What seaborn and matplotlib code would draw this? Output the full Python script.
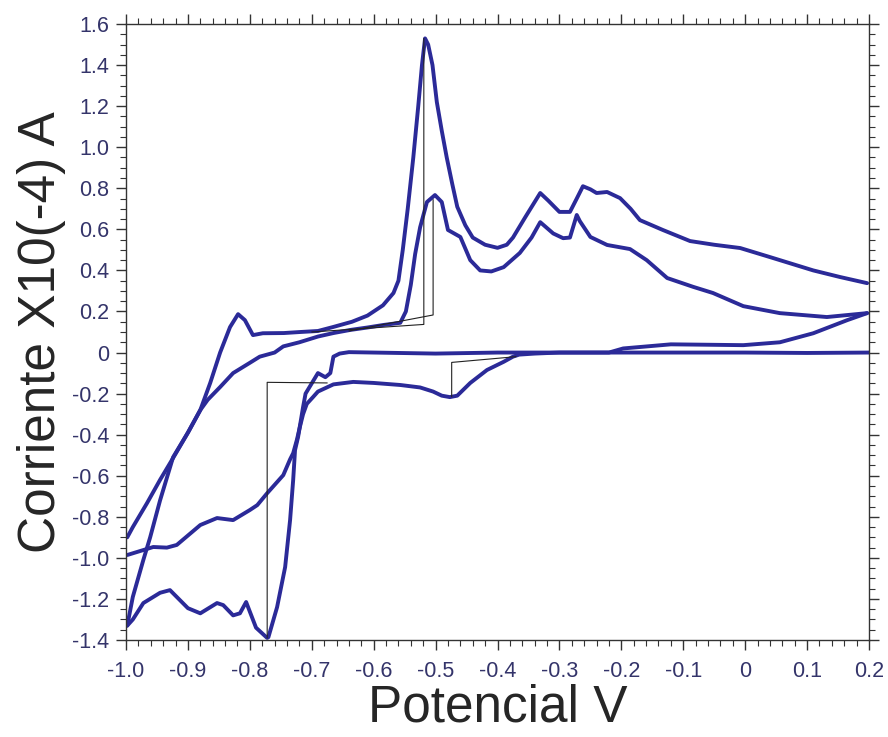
import numpy as np
import pandas as pd
import matplotlib
matplotlib.use("Agg")
import matplotlib.pyplot as plt
import seaborn as sns
from matplotlib.ticker import MultipleLocator, FuncFormatter

# Barrido anódico, ciclo 1 (pico grande)
anod1_x = [-0.998, -0.989, -0.972, -0.961, -0.945, -0.924, -0.90, -0.88, -0.864, -0.848,
           -0.832, -0.819, -0.808, -0.795, -0.779, -0.745, -0.719, -0.69, -0.666, -0.635,
           -0.61, -0.585, -0.568, -0.560, -0.553, -0.545, -0.536, -0.528, -0.522, -0.517,
           -0.512, -0.505, -0.498, -0.490, -0.482, -0.473, -0.465, -0.452, -0.44, -0.42,
           -0.40, -0.385, -0.375, -0.355, -0.331, -0.318, -0.30, -0.283, -0.272, -0.262,
           -0.25, -0.24, -0.223, -0.202, -0.185, -0.17, -0.133, -0.089, -0.05, -0.008,
           0.04, 0.11, 0.153, 0.197]
anod1_y = [-1.33, -1.19, -1.01, -0.90, -0.72, -0.51, -0.39, -0.28, -0.148, 0.0,
           0.124, 0.187, 0.158, 0.085, 0.094, 0.095, 0.10, 0.105, 0.124, 0.15,
           0.18, 0.23, 0.29, 0.35, 0.50, 0.70, 0.95, 1.20, 1.40, 1.53,
           1.50, 1.40, 1.22, 1.08, 0.95, 0.82, 0.71, 0.62, 0.56, 0.525,
           0.51, 0.525, 0.56, 0.66, 0.777, 0.74, 0.685, 0.685, 0.75, 0.81,
           0.795, 0.777, 0.782, 0.752, 0.70, 0.645, 0.597, 0.543, 0.525, 0.509,
           0.465, 0.40, 0.368, 0.338]

# Barrido anódico, ciclo 2
anod2_x = [-0.998, -0.989, -0.966, -0.945, -0.924, -0.90, -0.88, -0.868, -0.848, -0.827,
           -0.80, -0.784, -0.76, -0.746, -0.72, -0.69, -0.665, -0.638, -0.61, -0.585,
           -0.557, -0.548, -0.54, -0.533, -0.525, -0.514, -0.501, -0.49, -0.48, -0.46,
           -0.444, -0.428, -0.41, -0.39, -0.364, -0.345, -0.331, -0.31, -0.294, -0.283,
           -0.272, -0.267, -0.25, -0.223, -0.186, -0.159, -0.126, -0.084, -0.052, -0.003,
           0.056, 0.132, 0.197]
anod2_y = [-0.90, -0.85, -0.733, -0.62, -0.514, -0.39, -0.28, -0.23, -0.168, -0.10,
           -0.05, -0.02, 0.0, 0.03, 0.05, 0.078, 0.095, 0.11, 0.122, 0.134,
           0.145, 0.20, 0.33, 0.48, 0.61, 0.733, 0.767, 0.733, 0.597, 0.563,
           0.45, 0.40, 0.395, 0.416, 0.485, 0.56, 0.635, 0.58, 0.557, 0.56,
           0.67, 0.64, 0.563, 0.524, 0.504, 0.45, 0.363, 0.32, 0.29, 0.226,
           0.192, 0.173, 0.192]

# Barrido catódico, ciclo 1
cat1_x = [0.2, 0.1, 0.0, -0.1, -0.2, -0.3, -0.4, -0.5, -0.6, -0.64,
          -0.655, -0.665, -0.67, -0.678, -0.69, -0.70, -0.71, -0.714, -0.722, -0.727,
          -0.73, -0.735, -0.743, -0.756, -0.77, -0.772, -0.79, -0.806, -0.816, -0.827,
          -0.843, -0.853, -0.88, -0.90, -0.929, -0.945, -0.972, -0.989, -0.998]
cat1_y = [0.0, -0.002, 0.0, 0.0, 0.0, 0.0, 0.0, -0.005, 0.0, 0.002,
          -0.005, -0.02, -0.10, -0.12, -0.10, -0.15, -0.20, -0.265, -0.41, -0.475,
          -0.62, -0.816, -1.045, -1.24, -1.386, -1.39, -1.34, -1.215, -1.27, -1.28,
          -1.23, -1.22, -1.27, -1.245, -1.157, -1.17, -1.22, -1.30, -1.33]

# Barrido catódico, ciclo 2
cat2_x = [0.197, 0.165, 0.11, 0.056, -0.003, -0.06, -0.12, -0.197, -0.22, -0.26,
          -0.30, -0.34, -0.365, -0.375, -0.39, -0.417, -0.444, -0.465, -0.477, -0.49,
          -0.504, -0.525, -0.557, -0.60, -0.633, -0.665, -0.69, -0.698, -0.708, -0.714,
          -0.719, -0.724, -0.73, -0.735, -0.746, -0.772, -0.788, -0.80, -0.827, -0.853,
          -0.88, -0.918, -0.934, -0.956, -0.998]
cat2_y = [0.192, 0.158, 0.094, 0.05, 0.036, 0.038, 0.04, 0.02, 0.0, 0.0,
          0.0, -0.005, -0.01, -0.02, -0.045, -0.085, -0.148, -0.21, -0.217, -0.21,
          -0.19, -0.17, -0.158, -0.148, -0.143, -0.155, -0.19, -0.217, -0.25, -0.30,
          -0.36, -0.425, -0.49, -0.52, -0.597, -0.685, -0.743, -0.767, -0.816, -0.806,
          -0.84, -0.937, -0.95, -0.947, -0.986]

# Líneas base y alturas de pico
peak1_x = [-0.70, -0.519, -0.519]
peak1_y = [0.10, 0.137, 1.53]
peak2_x = [-0.64, -0.504, -0.504]
peak2_y = [0.105, 0.183, 0.745]
peak3_x = [-0.37, -0.474, -0.474]
peak3_y = [-0.02, -0.048, -0.215]
peak4_x = [-0.675, -0.772, -0.772]
peak4_y = [-0.148, -0.145, -1.39]

sns.set_style("ticks")
plt.rcParams['font.family'] = ['Liberation Sans', 'DejaVu Sans']

fig = plt.figure(figsize=(8.88, 7.37), dpi=100)
ax = fig.add_axes([0.1419, 0.1316, 0.8367, 0.8358])

blue = "#2b2a98"
for xs, ys in [(anod1_x, anod1_y), (anod2_x, anod2_y), (cat1_x, cat1_y), (cat2_x, cat2_y)]:
    df = pd.DataFrame({"E": xs, "I": ys})
    sns.lineplot(data=df, x="E", y="I", sort=False, estimator=None, color=blue, lw=2.8, ax=ax)

for xs, ys in [(peak1_x, peak1_y), (peak2_x, peak2_y), (peak3_x, peak3_y), (peak4_x, peak4_y)]:
    df = pd.DataFrame({"E": xs, "I": ys})
    sns.lineplot(data=df, x="E", y="I", sort=False, estimator=None, color="#222222", lw=0.8, ax=ax)

ax.set_xlim(-1.0, 0.2)
ax.set_ylim(-1.4, 1.6)
ax.xaxis.set_major_locator(MultipleLocator(0.1))
ax.xaxis.set_minor_locator(MultipleLocator(0.02))
ax.yaxis.set_major_locator(MultipleLocator(0.2))
ax.yaxis.set_minor_locator(MultipleLocator(0.05))
fmt = FuncFormatter(lambda v, p: "0" if abs(v) < 1e-9 else f"{v:.1f}")
ax.xaxis.set_major_formatter(fmt)
ax.yaxis.set_major_formatter(fmt)

for s in ax.spines.values():
    s.set_color("#333333")
    s.set_linewidth(1.0)
ax.tick_params(which="both", direction="out", top=True, right=True, color="#333333")
ax.tick_params(which="major", length=7, width=1.0, labelsize=15.5, labelcolor="#34346a")
ax.tick_params(which="minor", length=4, width=0.8)
ax.tick_params(axis="x", pad=8)
ax.tick_params(axis="y", pad=5)

ax.set_xlabel("Potencial V", fontsize=37, labelpad=1)
ax.set_ylabel("Corriente X10(-4) A", fontsize=37, labelpad=4)

fig.savefig("out.png", dpi=100)
